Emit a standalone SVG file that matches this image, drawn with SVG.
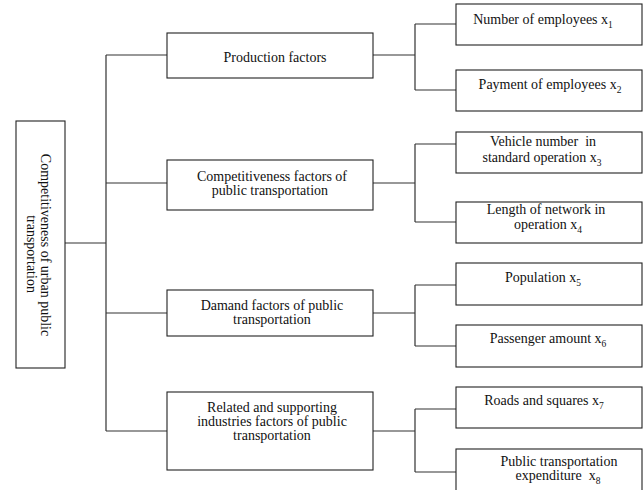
<svg xmlns="http://www.w3.org/2000/svg" width="644" height="490" viewBox="0 0 644 490">
<style>
.box{fill:#fff;stroke:#222;stroke-width:1.1}
.ln{fill:none;stroke:#333;stroke-width:1.2}
text{font-family:"Liberation Serif","Times New Roman",serif;font-size:14px;fill:#111;text-anchor:middle}
.sub{font-size:9.5px}
</style>
<rect width="644" height="490" fill="#fff"/>
<g id="connectors">
<path class="ln" d="M65,243H106M106,55V431M106,55H167M106,183H167M106,313H167M106,431H167"/>
<path class="ln" d="M373,55H415M415,24V90M415,24H456M415,90H456"/>
<path class="ln" d="M373,183H415M415,144V222M415,144H456M415,222H456"/>
<path class="ln" d="M373,313H415M415,285V346M415,285H456M415,346H456"/>
<path class="ln" d="M373,431H415M415,409V472M415,409H456M415,472H456"/>
</g>
<g id="root">
<rect class="box" x="16" y="121" width="49" height="247"/>
<text transform="translate(41,245) rotate(90)">Competitiveness of  urban  public</text>
<text transform="translate(27,254) rotate(90)">transportation</text>
</g>
<g id="production">
<rect class="box" x="167" y="33" width="206" height="45"/>
<text x="275" y="62">Production factors</text>
</g>
<g id="competitiveness">
<rect class="box" x="167" y="160" width="206" height="50"/>
<text x="272" y="181">Competitiveness factors of</text>
<text x="270" y="195">public transportation</text>
</g>
<g id="demand">
<rect class="box" x="167" y="290" width="206" height="46"/>
<text x="272" y="310">Damand factors of public</text>
<text x="272" y="324">transportation</text>
</g>
<g id="related">
<rect class="box" x="167" y="392" width="206" height="78"/>
<text x="272" y="412">Related and supporting</text>
<text x="272" y="426">industries factors of public</text>
<text x="272" y="440">transportation</text>
</g>
<g id="x1">
<rect class="box" x="456" y="4" width="186" height="41"/>
<text x="543" y="24">Number of employees x<tspan class="sub" dy="4">1</tspan></text>
</g>
<g id="x2">
<rect class="box" x="456" y="70" width="186" height="41"/>
<text x="550" y="89">Payment of employees x<tspan class="sub" dy="4">2</tspan></text>
</g>
<g id="x3">
<rect class="box" x="456" y="132" width="186" height="41"/>
<text x="543" y="146" xml:space="preserve">Vehicle number  in</text>
<text x="542" y="162">standard operation x<tspan class="sub" dy="4">3</tspan></text>
</g>
<g id="x4">
<rect class="box" x="456" y="202" width="186" height="41"/>
<text x="546" y="214">Length of network in</text>
<text x="548" y="229">operation x<tspan class="sub" dy="4">4</tspan></text>
</g>
<g id="x5">
<rect class="box" x="456" y="263" width="186" height="42"/>
<text x="543" y="282">Population x<tspan class="sub" dy="4">5</tspan></text>
</g>
<g id="x6">
<rect class="box" x="456" y="325" width="186" height="42"/>
<text x="548" y="343">Passenger amount x<tspan class="sub" dy="4">6</tspan></text>
</g>
<g id="x7">
<rect class="box" x="456" y="387" width="186" height="41"/>
<text x="544" y="405">Roads and squares x<tspan class="sub" dy="4">7</tspan></text>
</g>
<g id="x8">
<rect class="box" x="456" y="449" width="186" height="50"/>
<text x="559" y="466">Public transportation</text>
<text x="558" y="480" xml:space="preserve">expenditure  x<tspan class="sub" dy="4">8</tspan></text>
</g>
</svg>
